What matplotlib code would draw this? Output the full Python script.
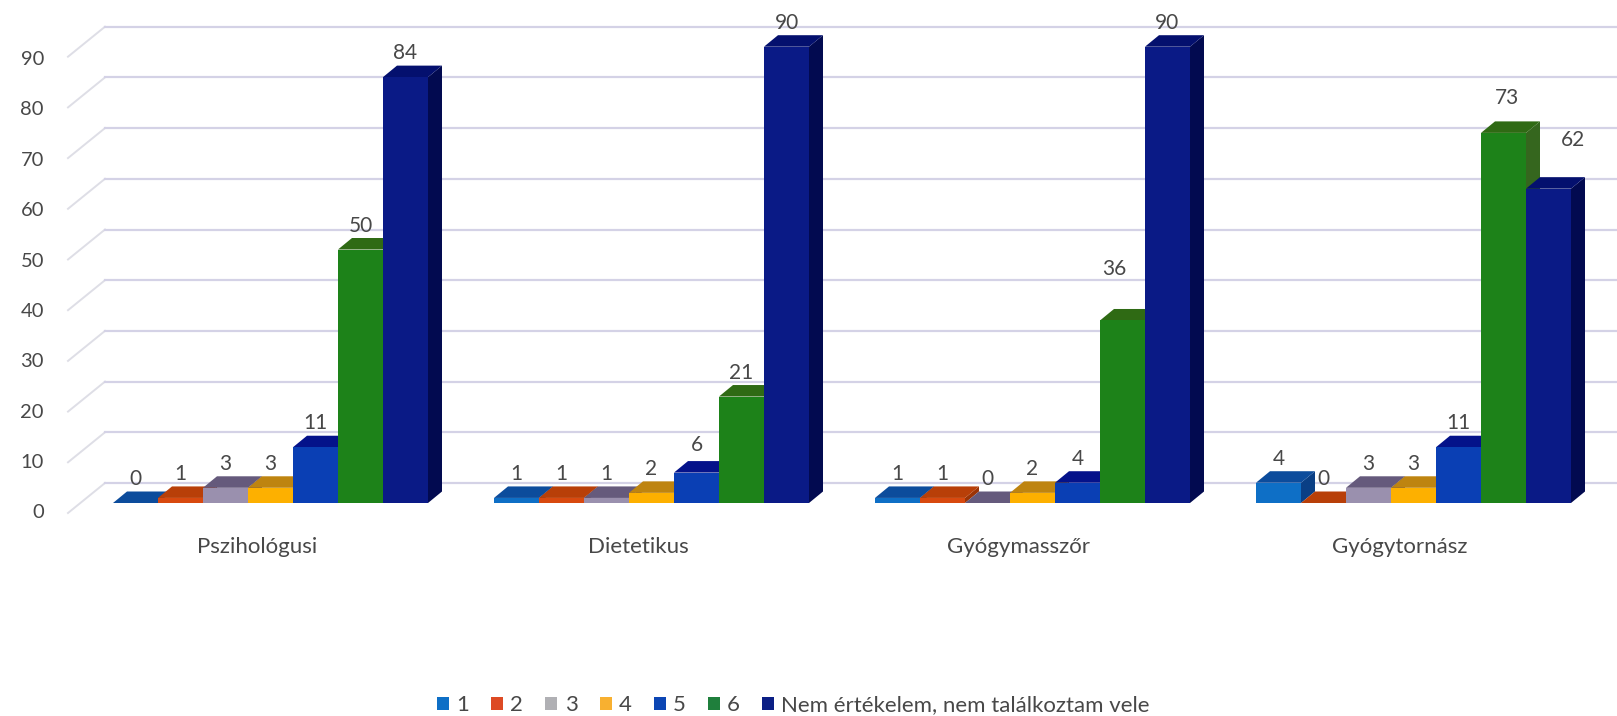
import matplotlib
matplotlib.use("Agg")
import matplotlib.pyplot as plt
from matplotlib.patches import Polygon, Patch
import numpy as np

plt.rcParams['font.family'] = ['Lato', 'DejaVu Sans']

categories = ["Pszihológusi", "Dietetikus", "Gyógymasszőr", "Gyógytornász"]
series_names = ["1", "2", "3", "4", "5", "6", "Nem értékelem, nem találkoztam vele"]
s1 = [0, 1, 1, 4]
s2 = [1, 1, 1, 0]
s3 = [3, 1, 0, 3]
s4 = [3, 2, 2, 3]
s5 = [11, 6, 4, 11]
s6 = [50, 21, 36, 73]
s7 = [84, 90, 90, 62]
ticks = [0, 10, 20, 30, 40, 50, 60, 70, 80, 90]

front_cols = ["#0E6FC6", "#D8490F", "#9A90AE", "#FDB000", "#0A3FB4", "#1D8219", "#0A1A86"]
top_cols = ["#0C4C9C", "#B83F08", "#655A7C", "#BE8410", "#04128A", "#2F6A14", "#04106E"]
side_cols = ["#0A3F85", "#9C3406", "#55496B", "#A87408", "#03106E", "#35661E", "#020A50"]
legend_cols = ["#0E6FC6", "#DD4A24", "#B0B0B4", "#F8B030", "#0C46B4", "#1F7F3C", "#0B1F85"]
text_col = "#484848"
grid_col = "#D4D2E6"
diag_col = "#DEDEE6"

# one x unit is one bar slot (45 px), one y unit is one chart unit (5.07 px)
sx = 45.0
sy = 5.07
x0 = 113
group_step = 381.0 / sx
dx = 14 / sx
dy = 11.5 / sy

fig = plt.figure(figsize=(16.17, 7.16), dpi=100)
ax = fig.add_axes([0, 0, 1, 1])
ax.set_xlim(-x0 / sx, (1617 - x0) / sx)
ax.set_ylim((503 - 716) / sy, 503 / sy)
ax.axis("off")

# back wall lines
x_wall_front = (68 - x0) / sx
x_wall_back = (105 - x0) / sx
y_wall_front = -10 / sy
y_wall_back = 20 / sy
x_end = (1617 - x0) / sx
for t in ticks:
    ax.plot([x_wall_front, x_wall_back], [t + y_wall_front, t + y_wall_back],
            color=diag_col, lw=1.4, zorder=1)
    ax.plot([x_wall_back, x_end], [t + y_wall_back, t + y_wall_back],
            color=grid_col, lw=1.6, zorder=1)
    # the labels close up a little towards the top
    ax.text((44 - x0) / sx, t * 0.994 + y_wall_front, str(t), ha="right", va="center",
            fontsize=14.5, color=text_col)

# labels that sit away from the default place: (group, series): (x shift, px above)
moved = {(3, 5): (0.07, 35), (3, 6): (0.55, 49), (2, 5): (-0.18, 51), (1, 4): (0, 28)}

all_series = [s1, s2, s3, s4, s5, s6, s7]
z = 2
for g in range(len(categories)):
    for j, vals in enumerate(all_series):
        x = g * group_step + j
        v = vals[g]
        ax.bar(x, v, width=1, align="edge", color=front_cols[j], linewidth=0, zorder=z + 0.5)
        ax.add_patch(Polygon([(x + 1, 0), (x + 1 + dx, dy), (x + 1 + dx, v + dy), (x + 1, v)],
                             closed=True, fc=side_cols[j], ec="none", zorder=z))
        ax.add_patch(Polygon([(x, v), (x + dx, v + dy), (x + 1 + dx, v + dy), (x + 1, v)],
                             closed=True, fc=top_cols[j], ec="none", zorder=z))
        z += 1
        shift, up = moved.get((g, j), (0, 24))
        ax.text(x + 0.5 + shift, v + up / sy, str(v), ha="center", va="center",
                fontsize=15, color=text_col, zorder=100)
    ax.text(g * group_step + 3.5 - 0.3, -44 / sy, categories[g], ha="center", va="center",
            fontsize=16, color=text_col)

handles = [Patch(fc=c, ec="none") for c in legend_cols]
ax.legend(handles, series_names, ncols=7, loc="center", frameon=False,
          bbox_to_anchor=(793.5 / 1617, 1 - 705 / 716), fontsize=16, labelcolor=text_col,
          handlelength=0.54, handleheight=0.54, handletextpad=0.32, columnspacing=1.0,
          borderpad=0, borderaxespad=0)

fig.savefig("out.png", dpi=100, facecolor="white")
